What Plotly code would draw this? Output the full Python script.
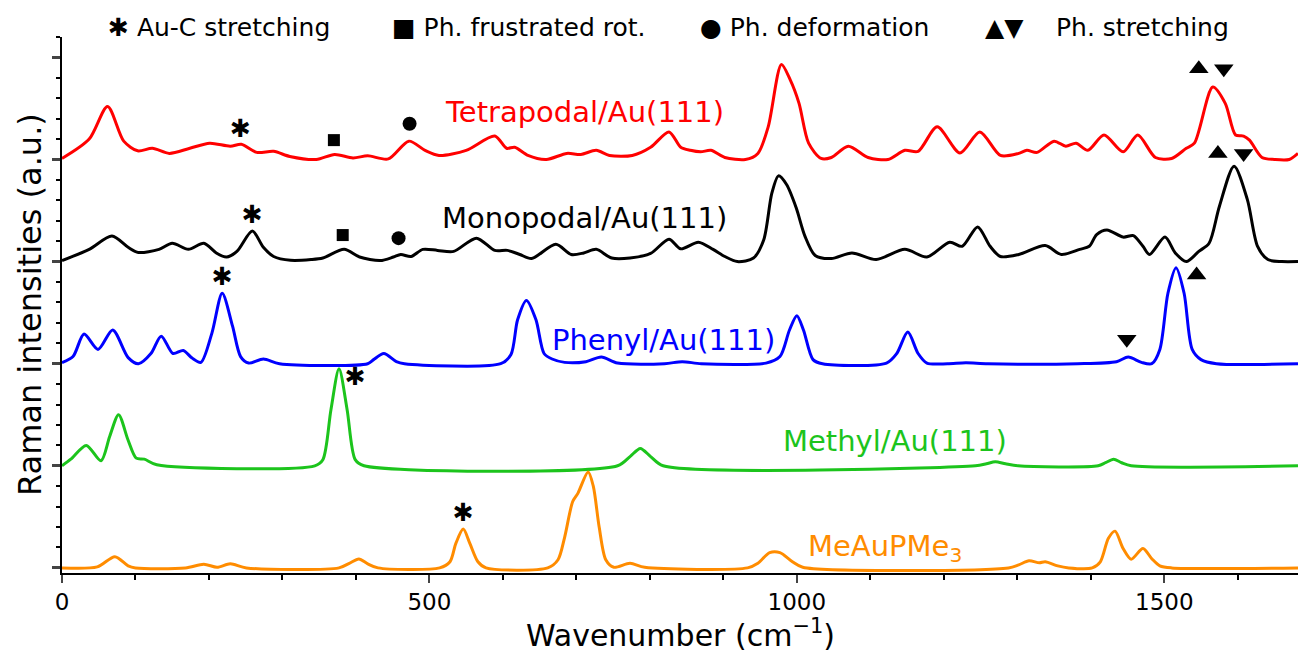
import plotly.graph_objects as go

# ---- spectra: wavenumber (cm-1) and relative Raman intensity ----
red_wn = [0, 37, 62, 84, 103, 123, 146, 174, 201, 229, 244, 265, 288, 310, 346, 371, 396, 416, 444, 472,
          494, 513, 550, 589, 605, 616, 634, 659, 687, 706, 727, 745, 776, 801, 826, 842, 855, 869, 883, 902,
          930, 947, 961, 979, 991, 1003, 1016, 1033, 1047, 1070, 1097, 1124, 1147, 1165, 1191, 1222, 1249, 1277, 1302, 1313,
          1327, 1350, 1366, 1380, 1396, 1418, 1444, 1464, 1488, 1510, 1530, 1541, 1566, 1583, 1597, 1608, 1616, 1633, 1650, 1670,
          1682]
red_int = [0.01, 0.2, 0.52, 0.18, 0.085, 0.11, 0.06, 0.11, 0.16, 0.13, 0.15, 0.07, 0.08, 0.03, 0.0, 0.05, 0.016, 0.036, 0.006, 0.18,
           0.09, 0.04, 0.09, 0.23, 0.11, 0.12, 0.04, 0.0, 0.06, 0.05, 0.09, 0.04, 0.04, 0.12, 0.27, 0.12, 0.09, 0.075, 0.09, 0.02,
           0.0, 0.06, 0.32, 0.93, 0.78, 0.55, 0.16, 0.01, 0.02, 0.13, 0.02, 0.0, 0.09, 0.08, 0.32, 0.065, 0.27, 0.04, 0.06, 0.09,
           0.07, 0.18, 0.13, 0.16, 0.09, 0.24, 0.075, 0.24, 0.02, 0.01, 0.11, 0.16, 0.71, 0.55, 0.24, 0.23, 0.19, 0.02, 0.0, 0.0,
           0.06]

black_wn = [0, 37, 68, 90, 104, 132, 150, 172, 193, 210, 224, 238, 259, 274, 288, 311, 339, 355, 384, 405,
            433, 451, 461, 475, 491, 511, 533, 564, 589, 606, 623, 639, 672, 693, 710, 727, 748, 773, 801, 826,
            842, 866, 886, 902, 919, 941, 955, 966, 975, 986, 999, 1011, 1025, 1047, 1075, 1108, 1147, 1177, 1208, 1225,
            1246, 1263, 1277, 1302, 1338, 1360, 1385, 1398, 1408, 1422, 1444, 1458, 1471, 1480, 1501, 1515, 1530, 1547, 1561, 1575,
            1595, 1613, 1627, 1641, 1660, 1682]
black_int = [0.01, 0.12, 0.25, 0.14, 0.09, 0.12, 0.18, 0.12, 0.18, 0.085, 0.045, 0.1, 0.3, 0.14, 0.05, 0.013, 0.02, 0.035, 0.12, 0.045,
             0.01, 0.045, 0.07, 0.05, 0.12, 0.11, 0.1, 0.23, 0.11, 0.11, 0.07, 0.03, 0.17, 0.07, 0.085, 0.12, 0.035, 0.035, 0.08, 0.22,
             0.125, 0.19, 0.12, 0.05, 0.0, 0.035, 0.215, 0.67, 0.84, 0.755, 0.53, 0.25, 0.06, 0.03, 0.085, 0.02, 0.12, 0.045, 0.19, 0.15,
             0.34, 0.15, 0.05, 0.07, 0.157, 0.07, 0.12, 0.15, 0.265, 0.31, 0.24, 0.255, 0.15, 0.07, 0.24, 0.085, 0.0, 0.1, 0.18, 0.54,
             0.935, 0.61, 0.15, 0.02, 0.0, 0.0]

blue_wn = [0, 15, 30, 49, 69, 90, 104, 121, 135, 151, 165, 177, 189, 204, 218, 232, 243, 254, 274, 296,
           416, 424, 438, 455, 466, 597, 611, 620, 632, 645, 656, 667, 684, 713, 734, 756, 820, 844, 870, 958,
           977, 990, 1000, 1009, 1022, 1035, 1122, 1136, 1151, 1165, 1177, 1205, 1230, 1260, 1382, 1435, 1451, 1469, 1483, 1494,
           1505, 1516, 1527, 1538, 1550, 1571, 1682]
blue_int = [0.01, 0.07, 0.29, 0.14, 0.33, 0.06, 0.0, 0.1, 0.27, 0.1, 0.13, 0.055, 0.013, 0.3, 0.69, 0.37, 0.07, 0.006, 0.046, 0.0,
            0.0, 0.04, 0.1, 0.02, 0.0, 0.0, 0.09, 0.43, 0.62, 0.43, 0.1, 0.046, 0.013, 0.02, 0.065, 0.006, 0.0, 0.02, 0.0, 0.006,
            0.07, 0.33, 0.47, 0.33, 0.04, 0.0, 0.006, 0.1, 0.31, 0.1, 0.006, 0.0, 0.01, 0.0, 0.0, 0.02, 0.065, 0.013, 0.0, 0.14,
            0.69, 0.94, 0.69, 0.14, 0.04, 0.0, 0.0]

green_wn = [0, 12, 33, 53, 65, 77, 90, 101, 112, 129, 344, 355, 366, 377, 388, 399, 411, 756, 773, 787,
            801, 818, 1243, 1258, 1270, 1284, 1301, 1410, 1420, 1431, 1442, 1455, 1682]
green_int = [0.0, 0.065, 0.2, 0.05, 0.29, 0.5, 0.25, 0.075, 0.065, 0.01, 0.0, 0.06, 0.55, 0.95, 0.55, 0.06, 0.0, 0.0, 0.09, 0.17,
             0.09, 0.0, 0.0, 0.02, 0.04, 0.02, 0.0, 0.0, 0.03, 0.065, 0.03, 0.0, 0.0]

orange_wn = [0, 48, 72, 90, 100, 168, 193, 211, 229, 251, 377, 391, 404, 416, 430, 514, 528, 536, 546, 555,
             566, 577, 661, 675, 684, 695, 702, 716, 723, 731, 740, 751, 773, 793, 933, 947, 963, 977, 994, 1008,
             1288, 1302, 1316, 1330, 1338, 1355, 1370, 1402, 1413, 1424, 1433, 1444, 1455, 1471, 1483, 1494, 1510, 1682]
orange_int = [0.0, 0.01, 0.11, 0.02, 0.0, 0.0, 0.036, 0.006, 0.04, 0.0, 0.0, 0.045, 0.088, 0.04, 0.0, 0.0, 0.06, 0.24, 0.38, 0.24,
              0.06, 0.0, 0.0, 0.08, 0.3, 0.65, 0.73, 0.94, 0.8, 0.4, 0.08, 0.006, 0.045, 0.006, 0.0, 0.045, 0.15, 0.15, 0.06, 0.006,
              0.0, 0.03, 0.07, 0.05, 0.06, 0.02, 0.0, 0.0, 0.06, 0.29, 0.36, 0.19, 0.085, 0.19, 0.09, 0.02, 0.0, 0.0]

series_names = ["Tetrapodal/Au(111)", "Monopodal/Au(111)", "Phenyl/Au(111)", "Methyl/Au(111)", "MeAuPMe<sub>3</sub>"]

# ---- mode markers (wavenumber, stacked height) ----
aster_x = [243, 259, 218, 399, 546]
aster_y = [4.28, 3.44, 2.83, 1.85, 0.52]
square_x = [370, 382]
square_y = [4.19, 3.26]
circle_x = [473, 458]
circle_y = [4.35, 3.23]
up_x = [1547, 1573, 1544]
up_y = [4.89, 4.06, 2.87]
down_x = [1581, 1608, 1449]
down_y = [4.89, 4.06, 2.24]

FONT = "DejaVu Sans"
spectra = [
    (red_wn, red_int, "#ff0000", 4),
    (black_wn, black_int, "#000000", 3),
    (blue_wn, blue_int, "#0000ff", 2),
    (green_wn, green_int, "#1cc41c", 1),
    (orange_wn, orange_int, "#ff8c00", 0),
]

fig = go.Figure()
for wn, inten, color, offset in spectra:
    fig.add_trace(go.Scatter(
        x=wn, y=[v + offset for v in inten], mode="lines",
        line=dict(color=color, width=3, shape="spline", smoothing=0.8),
        hoverinfo="skip", showlegend=False))

fig.add_trace(go.Scatter(x=aster_x, y=aster_y, mode="text", text=["✱"] * len(aster_x),
                         textfont=dict(family=FONT, size=25, color="black"), showlegend=False))
fig.add_trace(go.Scatter(x=square_x, y=square_y, mode="markers",
                         marker=dict(symbol="square", size=12, color="black"), showlegend=False))
fig.add_trace(go.Scatter(x=circle_x, y=circle_y, mode="markers",
                         marker=dict(symbol="circle", size=14, color="black"), showlegend=False))
fig.add_trace(go.Scatter(x=up_x, y=up_y, mode="markers",
                         marker=dict(symbol="triangle-up", size=17, color="black"), showlegend=False))
fig.add_trace(go.Scatter(x=down_x, y=down_y, mode="markers",
                         marker=dict(symbol="triangle-down", size=17, color="black"), showlegend=False))

# series labels
label_pos = [(711, 4.47), (711, 3.43), (818, 2.235), (1133, 1.245), (1120, 0.196)]
for (lx, ly), name, (_, _, color, _) in zip(label_pos, series_names, spectra):
    fig.add_annotation(x=lx, y=ly, text=name, showarrow=False, xanchor="center", yanchor="middle",
                       font=dict(family=FONT, size=29, color=color))

# key across the top
L, W = 62, 1236
def px(p):
    return (p - L) / W

key_items = [(106, "✱ Au-C stretching"), (390, "■ Ph. frustrated rot."),
             (698, "● Ph. deformation"), (983, "▲▼"), (1054, "Ph. stretching")]
for kx, txt in key_items:
    fig.add_annotation(x=px(kx), y=1.017, xref="paper", yref="paper", text=txt,
                       showarrow=False, xanchor="left", yanchor="middle",
                       font=dict(family=FONT, size=25, color="black"))

fig.add_annotation(x=px(30), y=0.5, xref="paper", yref="paper", text="Raman intensities (a.u.)",
                   textangle=-90, showarrow=False, xanchor="center", yanchor="middle",
                   font=dict(family=FONT, size=32, color="black"))
fig.add_annotation(x=0.5, y=-0.112, xref="paper", yref="paper", text="Wavenumber (cm<sup>−1</sup>)",
                   showarrow=False, xanchor="center", yanchor="middle",
                   font=dict(family=FONT, size=30, color="black"))

fig.update_layout(
    width=1298, height=653,
    margin=dict(l=62, r=0, t=37, b=80),
    paper_bgcolor="white", plot_bgcolor="white",
    font=dict(family=FONT, size=20, color="black"),
    xaxis=dict(range=[0, 1682], tick0=0, dtick=500, ticks="outside", ticklen=8, tickwidth=2,
               showline=True, linecolor="black", linewidth=1.5, showgrid=False, zeroline=False,
               tickfont=dict(family=FONT, size=23),
               minor=dict(dtick=100, ticks="outside", ticklen=5, tickwidth=1.5, tickcolor="black", showgrid=False)),
    yaxis=dict(range=[-0.05, 5.2], tick0=0, dtick=1, ticks="outside", ticklen=8, tickwidth=2.5,
               showticklabels=False, showline=True, linecolor="black", linewidth=1.5,
               showgrid=False, zeroline=False,
               minor=dict(dtick=0.2, ticks="outside", ticklen=4, tickwidth=1.5, tickcolor="black", showgrid=False)),
)

fig.write_html("out.html")
